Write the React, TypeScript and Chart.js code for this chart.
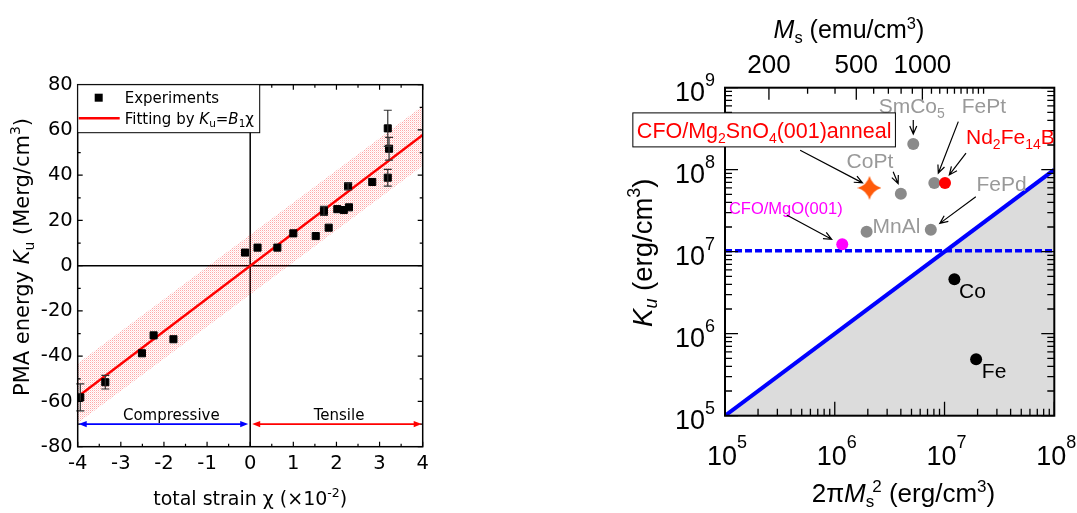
import React, { useEffect, useRef } from 'react';
import { Chart, registerables } from 'chart.js';

Chart.register(...registerables);

const LF = '"DejaVu Sans", Verdana, sans-serif';
const RF = '"Liberation Sans", Arial, sans-serif';

// ---------------- left panel data ----------------
const strainX = [-3.94, -3.36, -2.51, -2.24, -1.78, -0.12, 0.17, 0.63, 1.0, 1.52, 1.71, 1.82, 2.02, 2.17, 2.29, 2.27, 2.83, 3.19, 3.22, 3.19];
const energyY = [-58.2, -51.5, -38.7, -30.8, -32.5, 5.8, 8.0, 8.0, 14.3, 13.1, 24.2, 16.8, 25.0, 24.6, 25.8, 35.1, 37.0, 60.7, 51.7, 38.9];
const energyErr = [6, 3, 0, 0, 0, 0, 0, 0, 0, 0, 2, 0, 0, 0, 0, 1.5, 0, 8, 5, 3.7];
const fitX = [-4, 4];
const fitY = [-57.9, 57.8];
const bandX = [-4, 4];
const bandUpper = [-43.2, 70.6];
const bandLower = [-69.5, 44.2];
const strainTicks = [-4, -3, -2, -1, 0, 1, 2, 3, 4];
const strainMinor = [-3.5, -2.5, -1.5, -0.5, 0.5, 1.5, 2.5, 3.5];
const energyTicks = [-80, -60, -40, -20, 0, 20, 40, 60, 80];
const energyMinor = [-70, -50, -30, -10, 10, 30, 50, 70];
const compressiveRange = [-4, 0];
const tensileRange = [0, 4];
const regionArrowY = -70;

// ---------------- right panel data ----------------
const materials = ['SmCo5', 'CoPt', 'FePt', 'Nd2Fe14B', 'FePd', 'MnAl', 'CFO/MgO(001)', 'Co', 'Fe'];
const demagEnergy = [5.19e6, 4.0e6, 8.07e6, 1.01e7, 7.5e6, 1.95e6, 1.17e6, 1.23e7, 1.94e7];
const anisotropy = [2.06e8, 5.1e7, 6.9e7, 6.9e7, 1.85e7, 1.75e7, 1.23e7, 4.6e6, 4.87e5];
const annealX = [2.07e6];
const annealY = [6.0e7];
const boundaryX = [1e5, 1e8];
const boundaryY = [1e5, 1e8];
const thresholdX = [1e5, 1e8];
const thresholdY = [1.03e7, 1.03e7];
const decadesX = [5, 6, 7, 8];
const decadesY = [5, 6, 7, 8, 9];
const msMajor = [200, 500, 1000];
const msMinor = [300, 400, 600, 700, 800, 900, 1100, 1200, 1300, 1400, 1500, 1600, 1700, 1800, 1900];

const GRAY_P = '#8a8a8a';
const GRAY_T = '#999999';
const RED = '#ff0000';
const MAG = '#ff00ff';
const materialColors = [GRAY_P, GRAY_P, GRAY_P, RED, GRAY_P, GRAY_P, MAG, '#000', '#000'];

type Seg = [string, number, number?, boolean?, number?];

function rich(ctx: CanvasRenderingContext2D, segs: Seg[], family: string, x: number, y: number, align: string, color: string, rot = 0) {
  ctx.save();
  ctx.translate(x, y);
  if (rot) ctx.rotate(rot);
  ctx.textBaseline = 'alphabetic';
  ctx.textAlign = 'left';
  ctx.fillStyle = color;
  const fonts = segs.map((s) => `${s[3] ? 'italic ' : ''}${s[1]}px ${family}`);
  const ws = segs.map((s, i) => {
    ctx.font = fonts[i];
    return ctx.measureText(s[0]).width + (s[4] || 0);
  });
  const tot = ws.reduce((a, b) => a + b, 0);
  let cx = align === 'left' ? 0 : align === 'center' ? -tot / 2 : -tot;
  segs.forEach((s, i) => {
    ctx.font = fonts[i];
    ctx.fillText(s[0], cx + (s[4] || 0), s[2] || 0);
    cx += ws[i];
  });
  ctx.restore();
  return tot;
}

function openArrow(ctx: CanvasRenderingContext2D, x1: number, y1: number, x2: number, y2: number, color: string) {
  const a = Math.atan2(y2 - y1, x2 - x1);
  const L = 8, W = 3.5;
  ctx.save();
  ctx.strokeStyle = color;
  ctx.lineWidth = 1.2;
  ctx.beginPath();
  ctx.moveTo(x1, y1);
  ctx.lineTo(x2, y2);
  const bx = x2 - L * Math.cos(a), by = y2 - L * Math.sin(a);
  ctx.moveTo(bx - W * Math.sin(a), by + W * Math.cos(a));
  ctx.lineTo(x2, y2);
  ctx.lineTo(bx + W * Math.sin(a), by - W * Math.cos(a));
  ctx.stroke();
  ctx.restore();
}

function doubleArrow(ctx: CanvasRenderingContext2D, x1: number, x2: number, y: number, color: string) {
  ctx.save();
  ctx.strokeStyle = color;
  ctx.fillStyle = color;
  ctx.lineWidth = 1.8;
  ctx.beginPath();
  ctx.moveTo(x1 + 4, y);
  ctx.lineTo(x2 - 4, y);
  ctx.stroke();
  const L = 8, W = 3.2;
  ctx.beginPath();
  ctx.moveTo(x1, y); ctx.lineTo(x1 + L, y - W); ctx.lineTo(x1 + L, y + W); ctx.closePath();
  ctx.moveTo(x2, y); ctx.lineTo(x2 - L, y - W); ctx.lineTo(x2 - L, y + W); ctx.closePath();
  ctx.fill();
  ctx.restore();
}

function makeStar(size: number, color: string) {
  const c = document.createElement('canvas');
  c.width = size;
  c.height = size;
  const g = c.getContext('2d')!;
  const r = size / 2, k = size * 0.11;
  g.translate(r, r);
  g.beginPath();
  g.moveTo(0, -r);
  g.quadraticCurveTo(k, -k, r, 0);
  g.quadraticCurveTo(k, k, 0, r);
  g.quadraticCurveTo(-k, k, -r, 0);
  g.quadraticCurveTo(-k, -k, 0, -r);
  g.closePath();
  g.fillStyle = color;
  g.fill();
  return c;
}

function makeDots(ctx: CanvasRenderingContext2D) {
  const c = document.createElement('canvas');
  c.width = 2;
  c.height = 2;
  const g = c.getContext('2d')!;
  g.fillStyle = 'rgba(255,0,0,0.34)';
  g.fillRect(0, 0, 1, 1);
  g.fillStyle = 'rgba(255,0,0,0.12)';
  g.fillRect(1, 1, 1, 1);
  return ctx.createPattern(c, 'repeat')!;
}

const pts = (xs: number[], ys: number[]) => xs.map((x, i) => ({ x, y: ys[i] }));

const leftPlugin = {
  id: 'leftDecor',
  beforeDatasetsDraw(chart: any) {
    const { ctx, chartArea: a, scales } = chart;
    const x0 = scales.x.getPixelForValue(0), y0 = scales.y.getPixelForValue(0);
    ctx.save();
    ctx.strokeStyle = '#000';
    ctx.lineWidth = 1.5;
    ctx.beginPath();
    ctx.moveTo(x0, a.top); ctx.lineTo(x0, a.bottom);
    ctx.moveTo(a.left, y0); ctx.lineTo(a.right, y0);
    ctx.stroke();
    ctx.restore();
  },
  afterDatasetsDraw(chart: any) {
    const { ctx, chartArea: a, scales } = chart;
    const sx = scales.x, sy = scales.y;
    ctx.save();
    // error bars
    ctx.strokeStyle = '#333';
    ctx.lineWidth = 1.2;
    strainX.forEach((xv, i) => {
      const e = energyErr[i];
      if (!e) return;
      const px = sx.getPixelForValue(xv);
      const t = sy.getPixelForValue(energyY[i] + e), b = sy.getPixelForValue(energyY[i] - e);
      ctx.beginPath();
      ctx.moveTo(px, t); ctx.lineTo(px, b);
      ctx.moveTo(px - 4, t); ctx.lineTo(px + 4, t);
      ctx.moveTo(px - 4, b); ctx.lineTo(px + 4, b);
      ctx.stroke();
    });
    // frame
    ctx.strokeStyle = '#000';
    ctx.lineWidth = 1.5;
    ctx.strokeRect(a.left, a.top, a.right - a.left, a.bottom - a.top);
    // ticks inward
    ctx.lineWidth = 1.2;
    ctx.beginPath();
    const tx = (v: number, len: number) => {
      const p = sx.getPixelForValue(v);
      ctx.moveTo(p, a.bottom); ctx.lineTo(p, a.bottom - len);
      ctx.moveTo(p, a.top); ctx.lineTo(p, a.top + len);
    };
    const ty = (v: number, len: number) => {
      const p = sy.getPixelForValue(v);
      ctx.moveTo(a.left, p); ctx.lineTo(a.left + len, p);
      ctx.moveTo(a.right, p); ctx.lineTo(a.right - len, p);
    };
    strainTicks.forEach((v) => tx(v, 5));
    strainMinor.forEach((v) => tx(v, 3));
    energyTicks.forEach((v) => ty(v, 5));
    energyMinor.forEach((v) => ty(v, 3));
    ctx.stroke();
    // compressive / tensile arrows
    const ay = sy.getPixelForValue(regionArrowY);
    doubleArrow(ctx, sx.getPixelForValue(compressiveRange[0]) + 1, sx.getPixelForValue(compressiveRange[1]) - 2, ay, '#0000ff');
    doubleArrow(ctx, sx.getPixelForValue(tensileRange[0]) + 2, sx.getPixelForValue(tensileRange[1]) - 1, ay, '#ff0000');
    ctx.fillStyle = '#000';
    ctx.font = `15px ${LF}`;
    ctx.textAlign = 'center';
    ctx.textBaseline = 'alphabetic';
    ctx.fillText('Compressive', sx.getPixelForValue(-1.83), ay - 4);
    ctx.fillText('Tensile', sx.getPixelForValue(2.06), ay - 4);
    // legend
    const lx = a.left, ly = a.top;
    ctx.fillStyle = '#fff';
    ctx.fillRect(lx, ly, 182, 48);
    ctx.strokeStyle = '#000';
    ctx.lineWidth = 1;
    ctx.strokeRect(lx, ly, 182, 48);
    ctx.fillStyle = '#000';
    ctx.fillRect(lx + 17, ly + 9, 8, 8);
    rich(ctx, [['Experiments', 15]], LF, lx + 47, ly + 18.5, 'left', '#000');
    ctx.strokeStyle = '#ff0000';
    ctx.lineWidth = 2.5;
    ctx.beginPath();
    ctx.moveTo(lx + 1, ly + 33.5); ctx.lineTo(lx + 42, ly + 33.5);
    ctx.stroke();
    rich(ctx, [['Fitting by ', 15], ['K', 15, 0, true], ['u', 10.5, 3.5], ['=', 15], ['B', 15, 0, true], ['1', 10.5, 3.5], ['χ', 15]], LF, lx + 47, ly + 39, 'left', '#000');
    ctx.restore();
  },
  afterDraw(chart: any) {
    const { ctx, chartArea: a } = chart;
    const cx = (a.left + a.right) / 2;
    rich(ctx, [['total strain χ (×10', 19], ['-2', 12.5, -8], [')', 19]], LF, cx, 505, 'center', '#000');
    rich(ctx, [['PMA energy ', 21], ['K', 21, 0, true], ['u', 14, 4.5], [' (Merg/cm', 21], ['3', 14, -9], [')', 21]], LF, 29, 257, 'center', '#000', -Math.PI / 2);
  },
};

const segsFor: Record<string, Seg[]> = {
  SmCo5: [['SmCo', 21], ['5', 14, 5]],
  CoPt: [['CoPt', 21]],
  FePt: [['FePt', 21]],
  Nd2Fe14B: [['Nd', 21], ['2', 14, 5], ['Fe', 21], ['14', 14, 5], ['B', 21]],
  FePd: [['FePd', 21]],
  MnAl: [['MnAl', 21]],
  'CFO/MgO(001)': [['CFO/MgO(001)', 16.5]],
  Co: [['Co', 21]],
  Fe: [['Fe', 21]],
};
// label offset (left, baseline) and arrow (tail dx,dy -> tip dx,dy) relative to each point, in px
const labelOffset: Record<string, number[]> = {
  SmCo5: [-34.6, -30.5], CoPt: [-54.3, -25.2], FePt: [27.4, -69.5], Nd2Fe14B: [21, -38.8],
  FePd: [45.7, -39.2], MnAl: [6, 1.5], 'CFO/MgO(001)': [-113.3, -30.1], Co: [4.7, 18.2], Fe: [5.7, 18.2],
};
const arrowOffset: Record<string, number[]> = {
  SmCo5: [0, -24, 0, -10], CoPt: [-7.7, -22, -2.7, -10], FePt: [24, -61.3, 4, -9.7], Nd2Fe14B: [21, -29.7, 4.3, -8],
  FePd: [45, -33, 9, -6.4], 'CFO/MgO(001)': [-55.6, -29.3, -10.6, -5],
};

const rightPlugin = {
  id: 'rightDecor',
  afterDatasetsDraw(chart: any) {
    const { ctx, chartArea: a, scales } = chart;
    const sx = scales.x, sy = scales.y;
    ctx.save();
    // frame
    ctx.strokeStyle = '#000';
    ctx.lineWidth = 2;
    ctx.strokeRect(a.left, a.top, a.right - a.left, a.bottom - a.top);
    ctx.lineWidth = 1.3;
    ctx.beginPath();
    decadesX.forEach((d) => {
      for (let m = 1; m <= 9; m++) {
        const v = m * Math.pow(10, d);
        if (v > 1e8 + 1) break;
        const p = sx.getPixelForValue(v);
        const len = m === 1 ? 14 : 7;
        ctx.moveTo(p, a.bottom); ctx.lineTo(p, a.bottom - len);
      }
    });
    decadesY.forEach((d) => {
      for (let m = 1; m <= 9; m++) {
        const v = m * Math.pow(10, d);
        if (v > 1e9 + 1) break;
        const p = sy.getPixelForValue(v);
        const len = m === 1 ? 13 : 7;
        ctx.moveTo(a.left, p); ctx.lineTo(a.left + len, p);
        ctx.moveTo(a.right, p); ctx.lineTo(a.right - len, p);
      }
    });
    const msPx = (ms: number) => sx.getPixelForValue(2 * Math.PI * ms * ms);
    msMajor.forEach((ms) => { const p = msPx(ms); ctx.moveTo(p, a.top); ctx.lineTo(p, a.top + 12); });
    msMinor.forEach((ms) => { const p = msPx(ms); ctx.moveTo(p, a.top); ctx.lineTo(p, a.top + 6); });
    ctx.stroke();

    // annotations
    materials.forEach((name, i) => {
      const px = sx.getPixelForValue(demagEnergy[i]), py = sy.getPixelForValue(anisotropy[i]);
      const col = name === 'Nd2Fe14B' ? RED : name.startsWith('CFO') ? MAG : name === 'Co' || name === 'Fe' ? '#000' : GRAY_T;
      const o = labelOffset[name];
      rich(ctx, segsFor[name], RF, px + o[0], py + o[1], 'left', col);
      const ar = arrowOffset[name];
      if (ar) openArrow(ctx, px + ar[0], py + ar[1], px + ar[2], py + ar[3], '#000');
    });
    // annealed film label box
    const sxp = sx.getPixelForValue(annealX[0]), syp = sy.getPixelForValue(annealY[0]);
    const bl = sxp - 236.6, bt = syp - 75;
    const boxSegs: Seg[] = [['CFO/Mg', 21.5], ['2', 14, 5], ['SnO', 21.5], ['4', 14, 5], ['(001)anneal', 21.5]];
    const w = rich(ctx, boxSegs, RF, -1000, -1000, 'left', '#fff');
    ctx.fillStyle = '#fff';
    ctx.fillRect(bl, bt, w + 8, 34);
    ctx.strokeStyle = '#000';
    ctx.lineWidth = 1;
    ctx.strokeRect(bl, bt, w + 8, 34);
    rich(ctx, boxSegs, RF, bl + 4, bt + 25, 'left', RED);
    openArrow(ctx, sxp - 69.3, syp - 37.7, sxp - 7, syp - 5, '#000');

    // tick labels
    decadesY.forEach((d) => {
      const p = sy.getPixelForValue(Math.pow(10, d));
      rich(ctx, [['10', 27], [String(d), 18, -15]], RF, a.left - 10, p + 13, 'right', '#000');
    });
    decadesX.forEach((d) => {
      const p = sx.getPixelForValue(Math.pow(10, d));
      rich(ctx, [['10', 27], [String(d), 18, -17]], RF, p - 18, a.bottom + 49.3, 'left', '#000');
    });
    msMajor.forEach((ms) => {
      rich(ctx, [[String(ms), 26]], RF, msPx(ms), a.top - 14.4, 'center', '#000');
    });
    // titles
    const cx = (a.left + a.right) / 2, cy = (a.top + a.bottom) / 2;
    rich(ctx, [['M', 25, 0, true], ['s', 16.5, 5], [' (emu/cm', 25], ['3', 16.5, -9], [')', 25]], RF, cx - 40.7, 38.3, 'center', '#000');
    rich(ctx, [['2π', 26], ['M', 26, 0, true], ['s', 17, 5], ['2', 17, -10, false, -2], [' (erg/cm', 26], ['3', 17, -10], [')', 26]], RF, a.left + 86.7, 501.7, 'left', '#000');
    rich(ctx, [['K', 27.5, 0, true], ['u', 18, 5, true], [' (erg/cm', 27.5], ['3', 18, -12], [')', 27.5]], RF, a.left - 73.3, cy + 1, 'center', '#000', -Math.PI / 2);
    ctx.restore();
  },
};

export default function App() {
  const leftRef = useRef<HTMLCanvasElement>(null);
  const rightRef = useRef<HTMLCanvasElement>(null);

  useEffect(() => {
    const lc = leftRef.current!;
    const rc = rightRef.current!;
    const dots = makeDots(lc.getContext('2d')!);
    const star = makeStar(24, '#ff5a0a');

    const left = new Chart(lc, {
      type: 'scatter',
      data: {
        datasets: [
          { data: pts(bandX, bandUpper), showLine: true, pointRadius: 0, borderColor: 'transparent', borderWidth: 0, fill: false, order: 5 } as any,
          { data: pts(bandX, bandLower), showLine: true, pointRadius: 0, borderColor: 'transparent', borderWidth: 0, fill: '-1', backgroundColor: dots, order: 5 } as any,
          { data: pts(fitX, fitY), showLine: true, pointRadius: 0, borderColor: '#ff0000', borderWidth: 2.5, order: 2 } as any,
          { data: pts(strainX, energyY), pointStyle: 'rect', pointRadius: 5, backgroundColor: '#000', borderColor: '#000', borderWidth: 1, order: 1 } as any,
        ],
      },
      options: {
        responsive: false,
        animation: false,
        events: [],
        layout: { padding: { left: 0, top: 84.7, right: 117.3, bottom: 0 } },
        plugins: { legend: { display: false }, tooltip: { enabled: false } },
        scales: {
          x: {
            type: 'linear', min: -4, max: 4,
            grid: { display: false, drawTicks: false }, border: { display: false },
            ticks: { color: '#000', font: { family: LF, size: 19.5 }, padding: 6 },
            afterBuildTicks: (s: any) => { s.ticks = strainTicks.map((v) => ({ value: v })); },
            afterFit: (s: any) => { s.height = 66.3; },
          },
          y: {
            type: 'linear', min: -80, max: 80,
            grid: { display: false, drawTicks: false }, border: { display: false },
            ticks: { color: '#000', font: { family: LF, size: 19.5 }, padding: 5 },
            afterBuildTicks: (s: any) => { s.ticks = energyTicks.map((v) => ({ value: v })); },
            afterFit: (s: any) => { s.width = 77.7; },
          },
        },
      } as any,
      plugins: [leftPlugin],
    });

    const right = new Chart(rc, {
      type: 'scatter',
      data: {
        datasets: [
          { data: pts(demagEnergy, anisotropy), pointRadius: 6, pointStyle: 'circle', backgroundColor: materialColors, borderWidth: 0, order: 1 } as any,
          { data: pts(annealX, annealY), pointStyle: star, order: 0 } as any,
          { data: pts(thresholdX, thresholdY), showLine: true, pointRadius: 0, borderColor: '#0000ff', borderWidth: 3.5, borderDash: [7, 3], order: 3 } as any,
          { data: pts(boundaryX, boundaryY), showLine: true, pointRadius: 0, borderColor: '#0000ff', borderWidth: 4, fill: 'start', backgroundColor: '#dcdcdc', order: 4 } as any,
        ],
      },
      options: {
        responsive: false,
        animation: false,
        events: [],
        layout: { padding: { left: 0, top: 87.7, right: 22.7, bottom: 0 } },
        plugins: { legend: { display: false }, tooltip: { enabled: false } },
        scales: {
          x: {
            type: 'logarithmic', min: 1e5, max: 1e8,
            grid: { display: false, drawTicks: false }, border: { display: false },
            ticks: { display: false },
            afterFit: (s: any) => { s.height = 97.3; },
          },
          y: {
            type: 'logarithmic', min: 1e5, max: 1e9,
            grid: { display: false, drawTicks: false }, border: { display: false },
            ticks: { display: false },
            afterFit: (s: any) => { s.width = 185; },
          },
        },
      } as any,
      plugins: [rightPlugin],
    });

    return () => {
      left.destroy();
      right.destroy();
    };
  }, []);

  return (
    <div style={{ position: 'fixed', left: 0, top: 0, width: 1077, height: 513, background: '#fff' }}>
      <canvas ref={leftRef} width={540} height={513} style={{ position: 'absolute', left: 0, top: 0 }} />
      <canvas ref={rightRef} width={537} height={513} style={{ position: 'absolute', left: 540, top: 0 }} />
    </div>
  );
}
